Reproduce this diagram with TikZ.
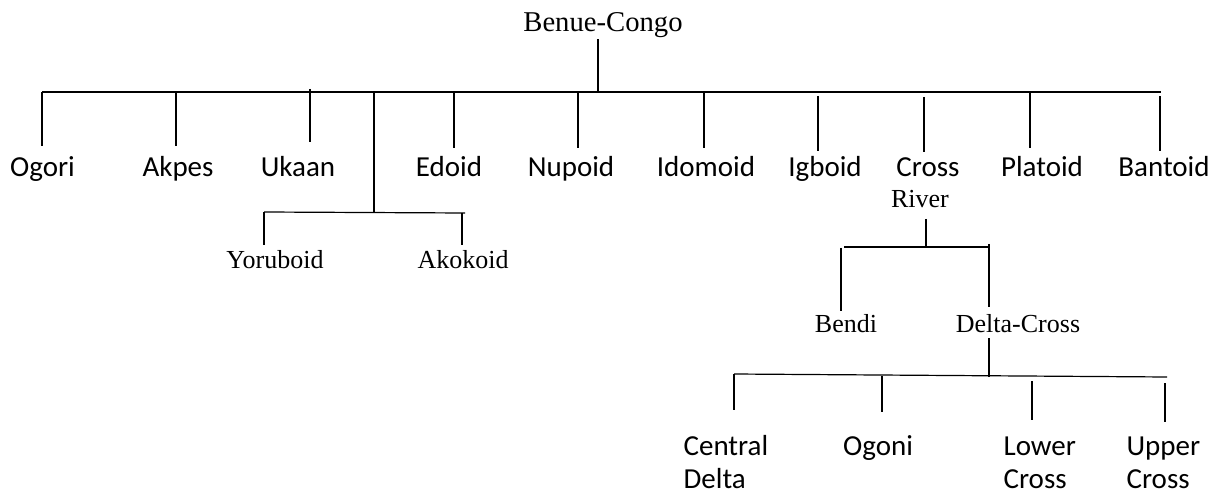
\documentclass[tikz,border=0pt]{standalone}
\usepackage{fontspec}
\setmainfont{Carlito}
\newfontfamily\cambriaish{Liberation Serif}

\tikzset{every picture/.style={line width=0.9pt}}
\tikzset{
  leaf/.style={font=\fontsize{21.75}{24.75}\selectfont, inner sep=0pt, anchor=base},
  subleaf/.style={font=\cambriaish\fontsize{19.5}{22}\selectfont, inner sep=0pt, anchor=base},
  rootlbl/.style={font=\cambriaish\fontsize{21.5}{24}\selectfont, inner sep=0pt, anchor=base},
}

\begin{document}
\begin{tikzpicture}[x=0.75pt,y=0.75pt,yscale=-1,xscale=1]
\useasboundingbox (0,0) rectangle (1220,495);

% Text Node
\node [rootlbl] (benue) at (603,32) {Benue-Congo};
% Text Node
\node [leaf] (ogori) at (42.5,177) {Ogori};
% Text Node
\node [leaf] (akpes) at (178,177) {Akpes};
% Text Node
\node [leaf] (ukaan) at (298,177) {Ukaan};
% Text Node
\node [leaf] (edoid) at (449,177) {Edoid};
% Text Node
\node [leaf] (nupoid) at (571,177) {Nupoid};
% Text Node
\node [leaf] (idomoid) at (706,177) {Idomoid};
% Text Node
\node [leaf] (igboid) at (825,177) {Igboid};
% Text Node
\node [leaf] (cross) at (928,177) {Cross};
% Text Node
\node [subleaf] (river) at (920,208) {River};
% Text Node
\node [leaf] (platoid) at (1042,177) {Platoid};
% Text Node
\node [leaf] (bantoid) at (1164,177) {Bantoid};
% Text Node
\node [subleaf] (yoruboid) at (275,268) {Yoruboid};
% Text Node
\node [subleaf] (akokoid) at (463,268) {Akokoid};
% Text Node
\node [subleaf] (bendi) at (846,332) {Bendi};
% Text Node
\node [subleaf] (deltacross) at (1018,332) {Delta-Cross};
% Text Node (base = last line)
\node [leaf, anchor=base west, align=left] (central) at (683,488) {Central\\Delta};
% Text Node
\node [leaf] (ogoni) at (878,455) {Ogoni};
% Text Node
\node [leaf, anchor=base west, align=left] (lower) at (1003,488) {Lower\\Cross};
% Text Node
\node [leaf, anchor=base west, align=left] (upper) at (1126,488) {Upper\\Cross};

%Straight Lines: main bar
\coordinate (bcJoin) at (598,92);
\coordinate (barL) at (42,92);
\coordinate (barR) at (1161,92);
\draw (barL) -- (barR);
\draw (bcJoin) -- (bcJoin |- benue.south);

%Straight Lines: first row
\coordinate (ogoriTop) at (42,92);
\draw [shorten >=7.5pt] (ogoriTop) -- (ogoriTop |- ogori.north);
\coordinate (akpesTop) at (176,92);
\draw [shorten >=8pt] (akpesTop) -- (akpesTop |- akpes.north);
\coordinate (ukaanTop) at (310,89);
\draw [shorten >=10.5pt] (ukaanTop) -- (ukaanTop |- ukaan.north);
\coordinate (edoidTop) at (454,92);
\draw [shorten >=6.5pt] (edoidTop) -- (edoidTop |- edoid.north);
\coordinate (nupoidTop) at (578,92);
\draw [shorten >=6.5pt] (nupoidTop) -- (nupoidTop |- nupoid.north);
\coordinate (idomoidTop) at (704,92);
\draw [shorten >=6.5pt] (idomoidTop) -- (idomoidTop |- idomoid.north);
\coordinate (igboidTop) at (818,96);
\draw [shorten >=4.3pt] (igboidTop) -- (igboidTop |- igboid.north);
\coordinate (crossTop) at (924,97);
\draw [shorten >=4pt] (crossTop) -- (crossTop |- cross.north);
\coordinate (platoidTop) at (1030,92);
\draw [shorten >=6.5pt] (platoidTop) -- (platoidTop |- platoid.north);
\coordinate (bantoidTop) at (1160,96);
\draw [shorten >=4.3pt] (bantoidTop) -- (bantoidTop |- bantoid.north);

%Straight Lines: Yoruboid / Akokoid
\coordinate (yorTop) at (374,92);
\coordinate (yorJoin) at (374,212.5);
\coordinate (yorL) at (264,212);
\coordinate (yorR) at (465,213);
\draw (yorTop) -- (yorJoin);
\draw (yorL) -- (yorR);
\draw [shorten >=3.5pt] (yorL) -- (yorL |- yoruboid.north);
\coordinate (akoTop) at (462,213);
\draw [shorten >=3pt] (akoTop) -- (akoTop |- akokoid.north);

%Straight Lines: Cross River
\coordinate (riverJoin) at (926,247);
\coordinate (crL) at (844,247);
\coordinate (crR) at (989,247);
\draw [shorten <=7.5pt] (riverJoin |- river.south) -- (riverJoin);
\draw (crL) -- (crR);
\coordinate (bendiTop) at (841,248);
\draw [shorten >=2pt] (bendiTop) -- (bendiTop |- bendi.north);
\coordinate (deltaTop) at (989,244);
\draw [shorten >=5pt] (deltaTop) -- (deltaTop |- deltacross.north);

%Straight Lines: Delta-Cross
\coordinate (dcJoin) at (989,377);
\coordinate (dcL) at (734,374);
\coordinate (dcR) at (1167,377);
\draw [shorten >=4pt] (dcJoin) -- (dcJoin |- deltacross.south);
\draw (dcL) -- (dcR);
\draw [shorten >=18pt] (dcL) -- (dcL |- central.north);
\coordinate (ogoniTop) at (882,376);
\draw [shorten >=16.5pt] (ogoniTop) -- (ogoniTop |- ogoni.north);
\coordinate (lowerTop) at (1032,381);
\draw [shorten >=12pt] (lowerTop) -- (lowerTop |- lower.north);
\coordinate (upperTop) at (1165,383);
\draw [shorten >=10.5pt] (upperTop) -- (upperTop |- upper.north);

\end{tikzpicture}
\end{document}
